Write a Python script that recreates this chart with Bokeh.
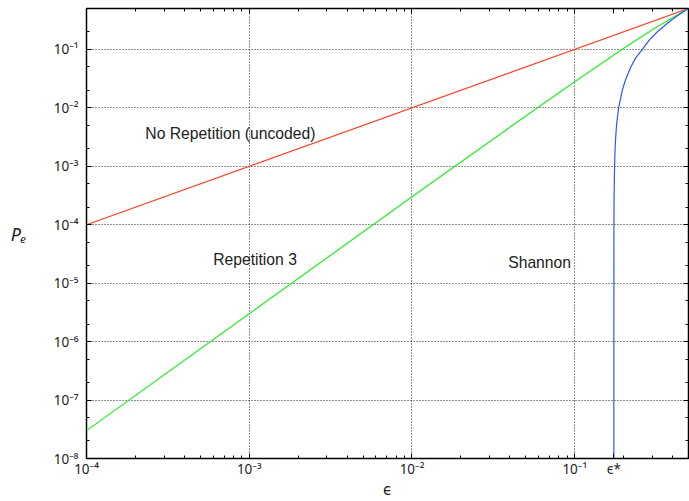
from bokeh.plotting import figure
from bokeh.models import (LogAxis, FixedTicker, Label, Range1d, CustomJSTickFormatter)
from bokeh.embed import file_html
from bokeh.resources import INLINE

# ---- data ----
eps_uncoded = [1e-4, 0.5]
pe_uncoded = [1e-4, 0.5]

eps_rep3 = [1e-4, 1e-3, 1e-2, 0.05, 0.1, 0.2, 0.3, 0.4, 0.5]
pe_rep3 = [3e-8, 3e-6, 3e-4, 7.25e-3, 0.028, 0.104, 0.216, 0.352, 0.5]

eps_shannon = [0.1739, 0.1739, 0.1739, 0.1740, 0.1741, 0.17448, 0.1757, 0.1770, 0.1783,
               0.1806, 0.186, 0.196, 0.205, 0.221, 0.236, 0.26, 0.2905, 0.322, 0.382, 0.441, 0.5]
pe_shannon = [1e-8, 1e-7, 1e-6, 1e-5, 1e-4, 3e-4, 1e-3, 2e-3, 3e-3,
              5e-3, 1e-2, 2e-2, 3e-2, 5e-2, 7e-2, 0.1, 0.15, 0.2, 0.3, 0.4, 0.5]

eps_star = 0.174
eps_star_label = "ϵ*"

x_tick_vals = [1e-4, 1e-3, 1e-2, 1e-1]
x_tick_labels = ["10⁻⁴", "10⁻³", "10⁻²", "10⁻¹"]
y_tick_vals = [1e-1, 1e-2, 1e-3, 1e-4, 1e-5, 1e-6, 1e-7, 1e-8]
y_tick_labels = ["10⁻¹", "10⁻²", "10⁻³", "10⁻⁴", "10⁻⁵", "10⁻⁶", "10⁻⁷", "10⁻⁸"]

FONT = "Liberation Sans"
TICK_FONT = "Noto Sans"

p = figure(width=689, height=501, x_axis_type="log", y_axis_type="log",
           x_range=Range1d(1e-4, 0.5), y_range=Range1d(1e-8, 0.5),
           output_backend="svg", toolbar_location=None,
           min_border_left=86, min_border_right=1, min_border_top=8, min_border_bottom=36)
p.background_fill_color = "white"
p.border_fill_color = "white"
p.outline_line_color = "black"
p.outline_line_width = 1.5

x_minor = [m * 10.0 ** k for k in range(-4, 0) for m in range(2, 10) if m * 10.0 ** k < 0.5]
y_minor = [m * 10.0 ** k for k in range(-8, 0) for m in (2, 5)]
xt = FixedTicker(ticks=x_tick_vals + [eps_star], minor_ticks=x_minor)
yt = FixedTicker(ticks=y_tick_vals, minor_ticks=y_minor)

def style_axis(ax):
    ax.axis_line_color = None
    ax.major_tick_in = 5
    ax.major_tick_out = 0
    ax.minor_tick_in = 3
    ax.minor_tick_out = 0
    ax.major_tick_line_color = "black"
    ax.minor_tick_line_color = "black"

p.xaxis.ticker = xt
p.yaxis.ticker = yt
for ax in p.xaxis + p.yaxis:
    style_axis(ax)
    ax.major_label_text_font = TICK_FONT
    ax.major_label_text_font_size = "13.5px"
    ax.major_label_text_color = "#222222"

p.xaxis.major_label_overrides = dict(zip(x_tick_vals + [eps_star], x_tick_labels + [eps_star_label]))
p.yaxis.major_label_overrides = dict(zip(y_tick_vals, y_tick_labels))
p.xaxis.major_label_standoff = 1
p.yaxis.major_label_standoff = 8

p.xaxis.axis_label = "ϵ"
p.xaxis.axis_label_text_font = "DejaVu Sans"
p.xaxis.axis_label_text_font_style = "normal"
p.xaxis.axis_label_text_font_size = "15px"
p.xaxis.axis_label_standoff = 0
p.xaxis.axis_label_text_color = "#222222"

p.yaxis.axis_label = "Pₑ"
p.yaxis.axis_label_text_font = TICK_FONT
p.yaxis.axis_label_text_font_style = "italic"
p.yaxis.axis_label_text_font_size = "18px"
p.yaxis.axis_label_standoff = 24
p.yaxis.axis_label_text_color = "#222222"
try:
    p.yaxis.axis_label_orientation = "horizontal"
except Exception:
    pass

hidden = CustomJSTickFormatter(code="return ''")
top = LogAxis(ticker=xt, formatter=hidden, major_label_standoff=0)
style_axis(top)
p.add_layout(top, "above")
right = LogAxis(ticker=yt, formatter=hidden, major_label_standoff=0)
style_axis(right)
p.add_layout(right, "right")

p.xgrid.ticker = FixedTicker(ticks=[1e-3, 1e-2, 1e-1])
p.ygrid.ticker = FixedTicker(ticks=y_tick_vals[:-1])
for g in (p.xgrid, p.ygrid):
    g.grid_line_color = "#222222"
    g.grid_line_dash = "1 2"
    g.grid_line_width = 1

p.line(eps_uncoded, pe_uncoded, line_color="#ff3c1e", line_width=1.2)
p.line(eps_rep3, pe_rep3, line_color="#22ee22", line_width=1.2)
p.line(eps_shannon, pe_shannon, line_color="#2a55ff", line_width=1.2)

# curve annotations
p.add_layout(Label(x=2.3e-4, y=3.6e-3, text="No Repetition (uncoded)",
                   text_align="left", text_baseline="middle",
                   text_font=FONT, text_font_size="15.7px", text_color="#222222"))
p.add_layout(Label(x=6e-4, y=2.5e-5, text="Repetition 3",
                   text_align="left", text_baseline="middle",
                   text_font=FONT, text_font_size="15.7px", text_color="#222222"))
p.add_layout(Label(x=0.039, y=2.3e-5, text="Shannon",
                   text_align="left", text_baseline="middle",
                   text_font=FONT, text_font_size="15.7px", text_color="#222222"))

open("out.html", "w").write(file_html(p, INLINE))
